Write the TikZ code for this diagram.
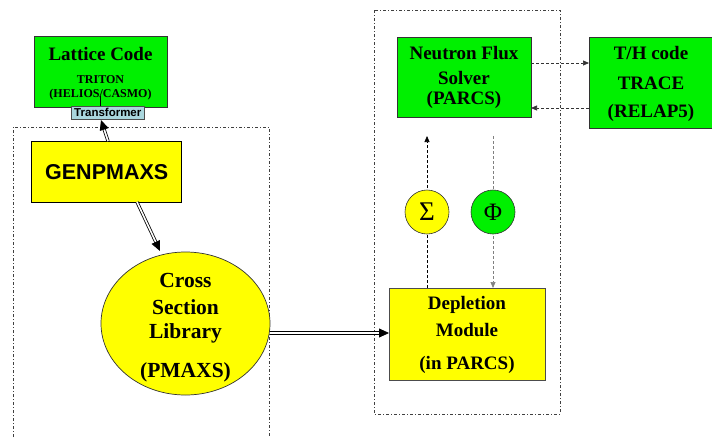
\documentclass[tikz,border=0pt]{standalone}
\usepackage{fontspec}
\setmainfont{Liberation Serif}
\setsansfont{Liberation Sans}
\usetikzlibrary{arrows.meta,shapes.geometric}
\definecolor{bgreen}{RGB}{0,240,0}
\definecolor{byellow}{RGB}{255,255,0}
\definecolor{tblue}{RGB}{170,215,222}
\tikzset{
  greenbox/.style={draw=black!80, fill=bgreen, line width=0.8pt},
  yellowbox/.style={draw=black, fill=byellow, line width=0.7pt},
  dashdotbox/.style={draw=black!75, dash pattern=on 3pt off 2pt on 1pt off 2pt, line width=0.6pt},
  txt/.style={font=\bfseries\fontsize{19}{21}\selectfont, inner sep=0pt},
  dblarrow/.style={double=white, double distance=1.6pt, line width=0.8pt, -{Triangle[length=10pt,width=9pt]}},
  dasharrow/.style={dashed, dash pattern=on 3pt off 2pt, line width=0.7pt, -{Triangle[length=6pt,width=5pt]}},
  grayarrow/.style={draw=gray, dash pattern=on 3pt off 2pt, line width=0.7pt},
}
\begin{document}
\begin{tikzpicture}[x=1pt,y=-1pt]
\useasboundingbox (0,0) rectangle (712,437);
% dash-dot frames
\draw[dashdotbox] (13,437) -- (13,127) -- (269,127) -- (269,437);
\draw[dashdotbox] (374,10) rectangle (560,414);
% Lattice code
\node[greenbox, minimum width=133pt, minimum height=71pt, anchor=north west] (lat) at (34,36) {};
\node[txt] (latt) at (100.5,54) {Lattice Code};
\node[txt, font=\bfseries\fontsize{12}{13}\selectfont] (trit) at (100.5,80) {TRITON};
\node[txt, font=\bfseries\fontsize{12}{13}\selectfont] (hel) at (100.5,95) {(HELIOS/CASMO)};
\coordinate (trT) at (100,106);
\coordinate (latB) at (100,96);
\draw[black, line width=0.8pt] (trT) -- (latB);
% Transformer
\node[draw=black!70, fill=tblue, line width=0.6pt, minimum width=73pt, minimum height=13pt, inner sep=0pt, anchor=north west, font=\sffamily\bfseries\fontsize{11.5}{12}\selectfont] (tr) at (71,106) {Transformer};
% GENPMAXS
\node[yellowbox, line width=1.4pt, minimum width=150pt, minimum height=61pt, anchor=north west, font=\sffamily\bfseries\fontsize{21.5}{23}\selectfont] (gen) at (31,141) {GENPMAXS};
\coordinate (genT) at (108,141);
\coordinate (trB) at (101,120);
\draw[dblarrow] (genT) -- (trB);
% Cross section library
\node[draw=black!80, fill=byellow, ellipse, minimum width=169pt, minimum height=143pt, line width=0.7pt] (csl) at (185.5,323.5) {};
\node[txt, font=\bfseries\fontsize{21.5}{23}\selectfont] at (185.5,280) {Cross};
\node[txt, font=\bfseries\fontsize{21.5}{23}\selectfont] at (185.5,307) {Section};
\node[txt, font=\bfseries\fontsize{21.5}{23}\selectfont] at (185.5,333) {Library};
\node[txt, font=\bfseries\fontsize{21.5}{23}\selectfont] at (185.5,372) {(PMAXS)};
\coordinate (genB) at (137,202);
\coordinate (cslT) at (160,251);
\draw[dblarrow] (genB) -- (cslT);
% Depletion module
\node[draw=black!70, fill=byellow, line width=0.7pt, minimum width=156pt, minimum height=92pt, anchor=north west] (dep) at (389,288) {};
\node[txt] at (467,305) {Depletion};
\node[txt] at (467,330) {Module};
\node[txt] at (467,365) {(in PARCS)};
\coordinate (cslR) at (270,333);
\coordinate (depL) at (389,333);
\draw[dblarrow] (cslR) -- (depL);
% Neutron flux solver
\node[greenbox, minimum width=134pt, minimum height=80pt, anchor=north west] (nfs) at (397,37) {};
\node[txt] at (464,53) {Neutron Flux};
\node[txt] at (464,78) {Solver};
\node[txt] at (464,100) {(PARCS)};
% T/H code
\node[greenbox, minimum width=130pt, minimum height=91pt, anchor=north west] (th) at (589,37) {};
\node[txt] at (651,53) {T/H code};
\node[txt] at (651,83) {TRACE};
\node[txt] at (651,113) {(RELAP5)};
\coordinate (nfsR1) at (531,63);
\coordinate (thL1) at (589,63);
\coordinate (thL2) at (589,108);
\coordinate (nfsR2) at (531,108);
\draw[dasharrow, black!80] (nfsR1) -- (thL1);
\draw[dasharrow, black!80] (thL2) -- (nfsR2);
% Sigma and Phi
\coordinate (depT1) at (427,288);
\coordinate (sigTop) at (427,136);
\coordinate (phiTop) at (493,136);
\coordinate (depT2) at (493,288);
\draw[dasharrow] (depT1) -- (sigTop);
\draw[grayarrow, -{Triangle[length=6pt,width=5pt]}] (phiTop) -- (depT2);
\node[circle, draw=black!80, fill=byellow, minimum size=44pt, inner sep=0pt, line width=0.6pt, font=\fontsize{27}{29}\selectfont] (sig) at (427,212) {Σ};
\node[circle, draw=black!80, fill=bgreen, minimum size=44pt, inner sep=0pt, line width=0.6pt, font=\fontsize{25}{27}\selectfont] (phi) at (493,212) {Φ};
\end{tikzpicture}
\end{document}
